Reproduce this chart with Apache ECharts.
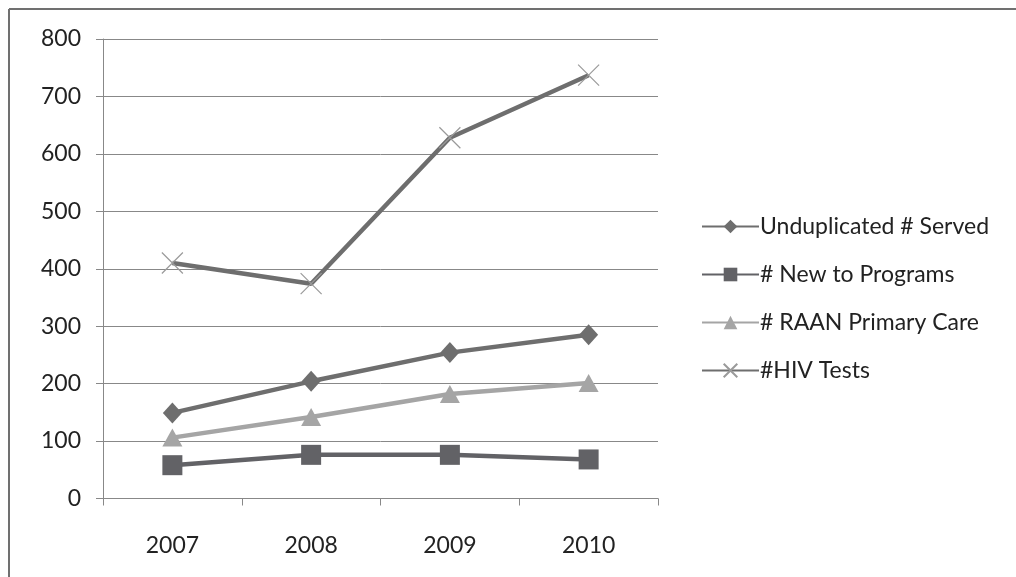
<!DOCTYPE html>
<html>
<head>
<meta charset="utf-8">
<script src="https://cdn.jsdelivr.net/npm/echarts@6/dist/echarts.min.js"></script>
<style>
html,body{margin:0;padding:0;background:#fff;}
#chart{width:1016px;height:577px;}
</style>
</head>
<body>
<div id="chart"></div>
<script>
const categories = ['2007', '2008', '2009', '2010'];
const unduplicatedServed = [149, 204, 254, 285];
const newToPrograms = [58, 76, 76, 68];
const raanPrimaryCare = [106, 142, 182, 201];
const hivTests = [410, 374, 628, 737];
const yTicks = [0, 100, 200, 300, 400, 500, 600, 700, 800];

const FONT = 'Lato, "Open Sans", sans-serif';
const chart = echarts.init(document.getElementById('chart'));
const xPath = 'path://M0,0L10,10M10,0L0,10';

chart.setOption({
  backgroundColor: '#fff',
  animation: false,
  graphic: [
    { type: 'line', shape: { x1: 9, y1: 9, x2: 1016, y2: 9 }, style: { stroke: '#707070', lineWidth: 2 } },
    { type: 'line', shape: { x1: 9, y1: 9, x2: 9, y2: 577 }, style: { stroke: '#707070', lineWidth: 2 } }
  ],
  grid: { left: 103, right: 358, top: 39, bottom: 78.5 },
  legend: {
    orient: 'vertical',
    left: 696,
    top: 210,
    itemWidth: 57,
    itemHeight: 17,
    itemGap: 25,
    textStyle: { fontFamily: FONT, fontSize: 23, color: '#222', padding: [0, 0, 0, -4] },
    data: ['Unduplicated # Served', '# New to Programs', '# RAAN Primary Care', '#HIV Tests']
  },
  xAxis: {
    type: 'category',
    data: categories,
    boundaryGap: true,
    axisLine: { lineStyle: { color: '#888', width: 1 } },
    axisTick: { show: true, length: 7, inside: false, lineStyle: { color: '#888' } },
    axisLabel: { fontFamily: FONT, fontSize: 23, color: '#222', margin: 36 },
    splitLine: { show: false }
  },
  yAxis: {
    type: 'value',
    min: 0,
    max: 800,
    interval: 100,
    axisLine: { show: true, lineStyle: { color: '#888', width: 1 } },
    axisTick: { show: true, length: 7, lineStyle: { color: '#888' } },
    axisLabel: {
      fontFamily: FONT, fontSize: 23, color: '#222', margin: 22,
      formatter: v => yTicks.includes(v) ? String(v) : ''
    },
    splitLine: { show: true, lineStyle: { color: '#888', width: 1 } }
  },
  series: [
    {
      name: 'Unduplicated # Served', type: 'line', data: unduplicatedServed,
      symbol: 'diamond', symbolSize: [19, 21],
      lineStyle: { color: '#6e6e6e', width: 4.5 },
      itemStyle: { color: '#6e6e6e' }, z: 3
    },
    {
      name: '# New to Programs', type: 'line', data: newToPrograms,
      symbol: 'rect', symbolSize: 20,
      lineStyle: { color: '#626266', width: 4.5 },
      itemStyle: { color: '#626266' }, z: 3
    },
    {
      name: '# RAAN Primary Care', type: 'line', data: raanPrimaryCare,
      symbol: 'triangle', symbolSize: [20, 18],
      lineStyle: { color: '#a5a5a5', width: 4.5 },
      itemStyle: { color: '#a5a5a5' }, z: 3
    },
    {
      name: '#HIV Tests', type: 'line', data: hivTests,
      symbol: xPath, symbolSize: 21, symbolKeepAspect: true,
      lineStyle: { color: '#6e6e6e', width: 4.5 },
      itemStyle: { color: 'rgba(0,0,0,0)', borderColor: '#9a9a9a', borderWidth: 1.2 }, z: 3
    }
  ]
});
</script>
</body>
</html>
